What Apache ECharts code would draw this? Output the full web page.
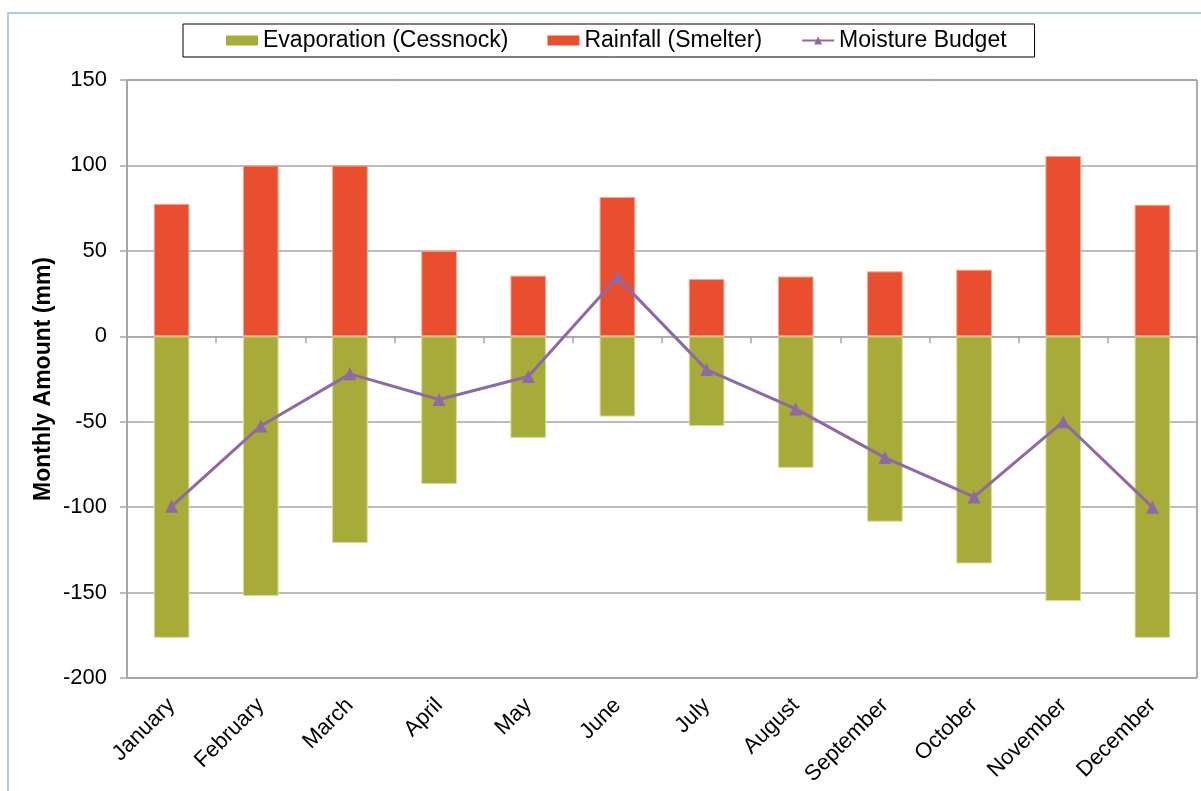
<!DOCTYPE html>
<html>
<head>
<meta charset="utf-8">
<script src="https://cdn.jsdelivr.net/npm/echarts@6/dist/echarts.min.js"></script>
<style>
  html, body { margin: 0; padding: 0; background: #fff; overflow: hidden; }
  #wrap { position: relative; width: 1201px; height: 791px; overflow: hidden; }
  #frame { position: absolute; left: 7px; top: 12px; width: 1200px; height: 800px; border: 2px solid #A9CFEF; box-sizing: border-box; }
  #chart { position: absolute; left: 0; top: 0; width: 1201px; height: 791px; }
</style>
</head>
<body>
<div id="wrap">
  <div id="frame"></div>
  <div id="chart"></div>
</div>
<script>
const categories = ['January','February','March','April','May','June','July','August','September','October','November','December'];
const evaporation = [-176.5, -152, -121, -86.5, -59.5, -47, -52.5, -77, -108.5, -133, -155, -176.5];
const rainfall = [77.5, 100, 100, 50, 35.5, 81.5, 33.5, 35, 38, 39, 105.5, 77];
const moisture = [-99.5, -52.5, -22, -37, -23.5, 34.5, -19.5, -42.5, -71, -94, -50, -100];
const yTicks = { min: -200, max: 150, interval: 50 };

const font = 'Liberation Sans, Arial, sans-serif';
const chart = echarts.init(document.getElementById('chart'), null, { renderer: 'canvas' });
chart.setOption({
  animation: false,
  backgroundColor: 'transparent',
  textStyle: { fontFamily: font },
  legend: {
    left: 183, top: 24,
    padding: [5, 28, 5, 43],
    borderColor: '#000', borderWidth: 1,
    itemWidth: 32, itemHeight: 10, itemGap: 39,
    itemStyle: { borderWidth: 0 },
    textStyle: { fontSize: 23, color: '#000', fontFamily: font },
    data: [
      { name: 'Evaporation (Cessnock)', icon: 'rect' },
      { name: 'Rainfall (Smelter)', icon: 'rect' },
      { name: 'Moisture Budget' }
    ]
  },
  grid: {
    left: 127, right: 4, top: 80, bottom: 113,
    show: true, borderColor: '#595959', borderWidth: 1, backgroundColor: 'transparent'
  },
  xAxis: [
    {
      type: 'category', data: categories, position: 'bottom',
      axisLine: { onZero: false, show: false },
      axisTick: { show: false },
      axisLabel: { interval: 0, rotate: 45, fontSize: 22, color: '#000', margin: 24, fontFamily: font }
    },
    {
      type: 'category', data: categories, position: 'bottom',
      axisLine: { onZero: true, show: true, lineStyle: { color: '#A6A6A6', width: 1.5 } },
      axisTick: { show: true, length: 7, lineStyle: { color: '#A6A6A6', width: 1.5 } },
      axisLabel: { show: false }
    }
  ],
  yAxis: {
    type: 'value', min: yTicks.min, max: yTicks.max, interval: yTicks.interval,
    name: 'Monthly Amount (mm)', nameLocation: 'middle', nameGap: 72, nameMoveOverlap: false,
    nameTextStyle: { fontSize: 23, fontWeight: 'bold', color: '#000', fontFamily: font },
    axisLine: { show: true, lineStyle: { color: '#A6A6A6', width: 1.5 } },
    axisTick: { show: true, length: 7, lineStyle: { color: '#A6A6A6', width: 1.5 } },
    axisLabel: { fontSize: 22, color: '#000', margin: 20, fontFamily: font },
    splitLine: { show: true, lineStyle: { color: '#A6A6A6', width: 1.5 } }
  },
  series: [
    {
      name: 'Evaporation (Cessnock)', type: 'bar', stack: 'mb', data: evaporation,
      barWidth: '40%',
      itemStyle: { color: '#A6AC37', borderColor: '#D9DC9A', borderWidth: 1 }
    },
    {
      name: 'Rainfall (Smelter)', type: 'bar', stack: 'mb', data: rainfall,
      barWidth: '40%',
      itemStyle: { color: '#E94F2F', borderColor: '#F5A893', borderWidth: 1 }
    },
    {
      name: 'Moisture Budget', type: 'line', data: moisture,
      symbol: 'triangle', symbolSize: 13,
      lineStyle: { color: '#8F69A7', width: 3 },
      itemStyle: { color: '#8F69A7' },
      z: 5
    }
  ]
});
</script>
</body>
</html>
